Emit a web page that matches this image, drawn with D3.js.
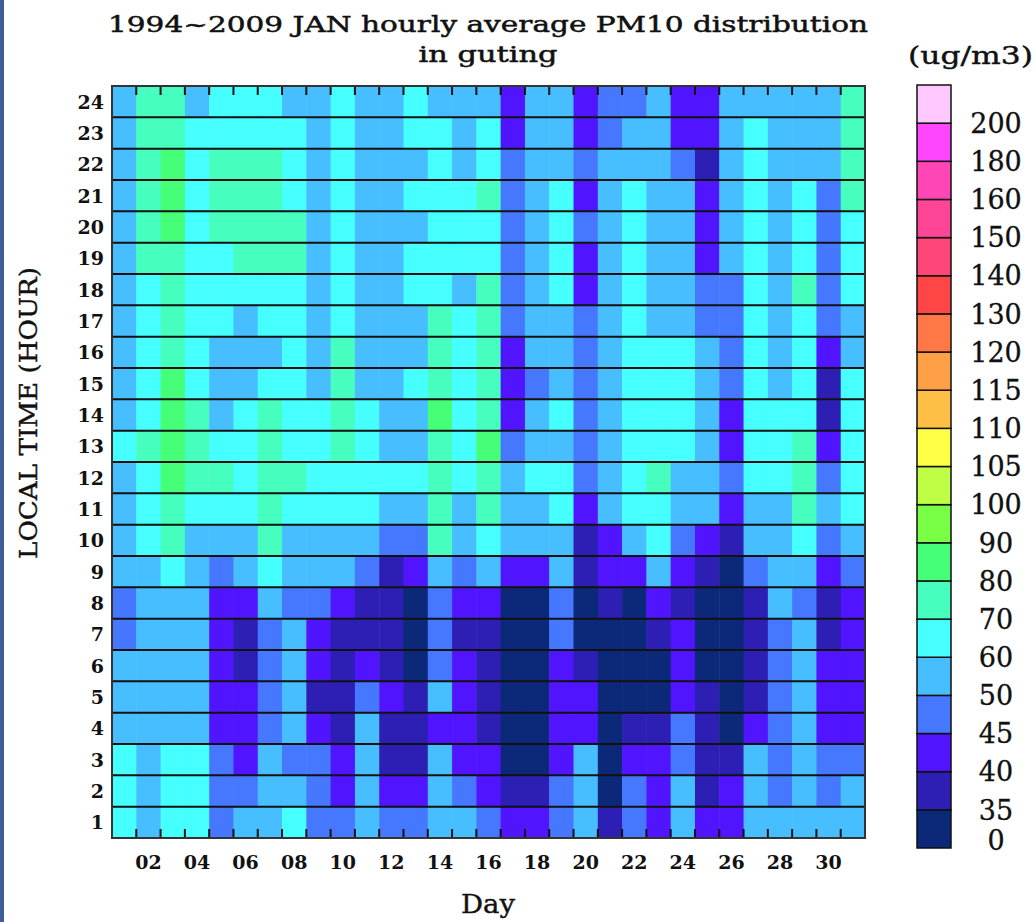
<!DOCTYPE html>
<html>
<head>
<meta charset="utf-8">
<script src="https://cdn.jsdelivr.net/npm/d3@7"></script>
<style>
html, body { margin: 0; padding: 0; background: #ffffff; }
svg { display: block; }
</style>
</head>
<body>
<svg id="chart" width="1034" height="922"></svg>
<script>
// ---------------- data ----------------
const days = [1,2,3,4,5,6,7,8,9,10,11,12,13,14,15,16,17,18,19,20,21,22,23,24,25,26,27,28,29,30,31];
const hours = [1,2,3,4,5,6,7,8,9,10,11,12,13,14,15,16,17,18,19,20,21,22,23,24];
const dayTickLabels = ["02","04","06","08","10","12","14","16","18","20","22","24","26","28","30"];

// colour bins (ug/m3)
const binEdges  = [35,40,45,50,60,70,80,90,100,105,110,115,120,130,140,150,160,180,200];
const binLabels = ["0","35","40","45","50","60","70","80","90","100","105","110","115","120","130","140","150","160","180","200"];
const binColors = ["#0c2878","#2d1eb4","#5014ff","#4678ff","#46beff","#46ffff","#46ffbe","#46ff78",
                   "#78ff46","#beff46","#ffff46","#ffbe46","#ffa046","#ff7846","#ff4646","#ff4678",
                   "#ff4696","#ff46b4","#ff46ff","#ffc8ff"];

// hourly average PM10, one row per local hour (1..24), one value per day (1..31)
const hourRows = [
/* 1 */ [65,55,65,65,47,55,55,65,47,47,55,47,47,55,55,47,42,42,47,55,37,47,42,55,42,42,55,55,55,55,55],
/* 2 */ [65,55,65,65,47,47,55,55,47,42,55,42,42,55,47,42,37,37,47,55,30,47,42,55,37,42,55,47,55,47,55],
/* 3 */ [65,55,65,65,47,42,55,47,47,42,55,37,37,55,42,42,30,30,42,55,30,42,42,47,37,37,55,47,55,47,47],
/* 4 */ [55,55,55,55,42,42,47,55,42,37,55,37,37,42,42,37,30,30,42,42,30,37,37,47,37,30,42,47,55,42,42],
/* 5 */ [55,55,55,55,42,42,47,55,37,37,47,42,37,55,42,37,30,30,42,42,30,30,30,42,37,30,37,47,55,42,42],
/* 6 */ [55,55,55,55,42,37,47,55,42,37,42,37,30,47,42,37,30,30,42,37,30,30,30,42,30,30,37,47,55,42,42],
/* 7 */ [47,55,55,55,42,37,47,55,42,37,37,37,30,47,37,37,30,30,47,30,30,30,37,42,30,30,37,47,55,37,42],
/* 8 */ [47,55,55,55,42,42,55,47,47,42,37,37,30,47,42,42,30,30,47,30,37,30,42,37,30,30,37,55,47,37,42],
/* 9 */ [55,55,65,55,47,55,65,55,55,55,47,37,42,55,47,55,42,42,55,37,42,42,55,42,37,30,47,55,55,42,47],
/*10 */ [55,65,75,55,55,55,75,55,55,55,55,47,47,75,55,65,55,55,55,37,42,55,65,47,42,37,55,55,65,47,55],
/*11 */ [55,65,75,65,65,65,75,65,65,65,65,55,55,75,55,75,55,55,65,42,55,65,65,55,55,42,55,55,75,55,65],
/*12 */ [55,65,85,75,75,65,75,75,65,65,65,65,65,75,65,75,55,65,65,47,55,65,75,55,55,47,65,65,75,47,65],
/*13 */ [65,75,85,75,65,65,75,65,65,75,65,55,55,75,65,85,47,55,55,47,55,65,65,65,55,42,65,65,75,42,65],
/*14 */ [55,65,85,75,55,65,75,65,65,75,65,55,55,85,65,75,42,55,65,47,55,65,65,65,55,42,65,65,65,37,65],
/*15 */ [55,65,85,65,55,55,65,65,55,75,55,55,65,75,65,75,42,47,55,47,55,65,65,65,55,47,65,55,65,37,65],
/*16 */ [55,65,75,65,55,55,55,65,55,75,55,55,55,75,65,75,42,55,55,47,55,65,65,65,55,47,65,55,65,42,55],
/*17 */ [55,65,75,65,65,55,65,65,55,65,55,55,55,75,65,75,47,55,55,47,55,65,55,55,47,47,65,55,65,47,55],
/*18 */ [55,65,75,65,65,65,65,65,55,65,55,55,65,65,55,75,47,55,65,42,55,65,55,55,47,47,65,55,75,47,65],
/*19 */ [55,75,75,65,65,75,75,75,55,65,55,55,65,65,65,65,47,55,65,42,55,65,55,55,42,55,65,55,65,47,65],
/*20 */ [55,75,85,65,75,75,75,75,55,65,55,55,55,65,65,65,47,55,65,47,55,65,55,55,42,55,65,55,65,47,65],
/*21 */ [55,75,85,65,75,75,75,65,55,65,55,55,65,65,65,75,47,55,65,42,55,65,55,55,42,55,65,55,65,47,75],
/*22 */ [55,75,85,65,75,75,75,65,55,65,55,55,55,65,55,65,47,55,55,47,55,55,55,47,37,55,65,55,55,55,75],
/*23 */ [55,75,75,65,65,65,65,65,55,65,55,55,65,65,55,65,42,55,55,42,47,55,55,42,42,55,65,55,55,55,75],
/*24 */ [55,75,75,55,65,65,65,55,55,65,55,55,65,55,55,55,42,55,55,42,47,47,55,42,42,55,55,55,55,55,75]
];

// ---------------- drawing ----------------
const svg = d3.select("#chart");
const FONT = "'DejaVu Serif', serif";

// left page strip
svg.append("rect").attr("x", 0).attr("y", 0).attr("width", 4).attr("height", 922).attr("fill", "#3d5f96");

const plot = { left: 112, right: 865, top: 86, bottom: 838 };

const x = d3.scaleBand().domain(days).range([plot.left, plot.right]).padding(0);
const y = d3.scaleBand().domain(hours.slice().reverse()).range([plot.top, plot.bottom]).padding(0);
const color = d3.scaleThreshold().domain(binEdges).range(binColors);

const cells = [];
hourRows.forEach((row, i) => row.forEach((v, j) => cells.push({ hour: hours[i], day: days[j], value: v })));

svg.append("g").selectAll("rect").data(cells).join("rect")
  .attr("x", d => x(d.day))
  .attr("y", d => y(d.hour))
  .attr("width", x.bandwidth() + 0.5)
  .attr("height", y.bandwidth() + 0.5)
  .attr("fill", d => color(d.value));

// horizontal row separators
svg.append("g").selectAll("line").data(hours.slice(0, -1)).join("line")
  .attr("x1", plot.left).attr("x2", plot.right)
  .attr("y1", d => y(d)).attr("y2", d => y(d))
  .attr("stroke", "#111").attr("stroke-width", 2);

// ticks at day boundaries (top and bottom, inward)
const tickDays = days.slice(1);
const tg = svg.append("g").attr("stroke", "#111").attr("stroke-width", 2);
tg.selectAll("line.t").data(tickDays).join("line").attr("class", "t")
  .attr("x1", d => x(d)).attr("x2", d => x(d))
  .attr("y1", plot.top).attr("y2", plot.top + 9);
tg.selectAll("line.b").data(tickDays).join("line").attr("class", "b")
  .attr("x1", d => x(d)).attr("x2", d => x(d))
  .attr("y1", plot.bottom).attr("y2", plot.bottom - 9);

// frame
svg.append("rect")
  .attr("x", plot.left).attr("y", plot.top)
  .attr("width", plot.right - plot.left).attr("height", plot.bottom - plot.top)
  .attr("fill", "none").attr("stroke", "#333").attr("stroke-width", 2);

// y tick labels
svg.append("g").selectAll("text").data(hours).join("text")
  .attr("x", 104).attr("y", d => y(d) + y.bandwidth() / 2)
  .attr("dy", "0.36em")
  .attr("text-anchor", "end")
  .attr("font-family", FONT).attr("font-weight", "bold").attr("font-size", 19)
  .attr("fill", "#111")
  .text(d => d);

// x tick labels
svg.append("g").selectAll("text").data(dayTickLabels).join("text")
  .attr("x", d => x(+d) + x.bandwidth() / 2)
  .attr("y", 869)
  .attr("text-anchor", "middle")
  .attr("font-family", FONT).attr("font-weight", "bold").attr("font-size", 19)
  .attr("fill", "#111")
  .text(d => d);

// titles
svg.append("text")
  .attr("x", 488).attr("y", 32).attr("text-anchor", "middle")
  .attr("font-family", FONT).attr("font-size", 23).attr("fill", "#111")
  .attr("stroke", "#111").attr("stroke-width", 0.5)
  .attr("textLength", 760).attr("lengthAdjust", "spacingAndGlyphs")
  .text("1994~2009 JAN hourly average PM10 distribution");
svg.append("text")
  .attr("x", 488).attr("y", 62).attr("text-anchor", "middle")
  .attr("font-family", FONT).attr("font-size", 23).attr("fill", "#111")
  .attr("stroke", "#111").attr("stroke-width", 0.5)
  .attr("textLength", 139).attr("lengthAdjust", "spacingAndGlyphs")
  .text("in guting");

// axis titles
svg.append("text")
  .attr("x", 488).attr("y", 913).attr("text-anchor", "middle")
  .attr("font-family", FONT).attr("font-size", 26).attr("fill", "#111")
  .attr("stroke", "#111").attr("stroke-width", 0.4)
  .attr("textLength", 54).attr("lengthAdjust", "spacingAndGlyphs")
  .text("Day");
svg.append("text")
  .attr("transform", "translate(37,413) rotate(-90)")
  .attr("text-anchor", "middle")
  .attr("font-family", FONT).attr("font-size", 25).attr("fill", "#111")
  .attr("stroke", "#111").attr("stroke-width", 0.4)
  .attr("textLength", 292).attr("lengthAdjust", "spacingAndGlyphs")
  .text("LOCAL TIME (HOUR)");

// colour bar
const legTop = 85, legBottom = 848, legX = 917, legW = 34;
const binIdx = binColors.map((c, i) => i);
const ly = d3.scaleBand().domain(binIdx.slice().reverse()).range([legTop, legBottom]).padding(0);

svg.append("g").selectAll("rect").data(binIdx).join("rect")
  .attr("x", legX).attr("y", i => ly(i))
  .attr("width", legW).attr("height", ly.bandwidth())
  .attr("fill", i => binColors[i])
  .attr("stroke", "#111").attr("stroke-width", 1.5);

svg.append("g").selectAll("text").data(binIdx).join("text")
  .attr("x", 996)
  .attr("y", i => i === 0 ? legBottom - 8 : ly(i) + ly.bandwidth())
  .attr("dy", "0.36em")
  .attr("text-anchor", "middle")
  .attr("font-family", FONT).attr("font-size", 27).attr("fill", "#111")
  .attr("stroke", "#111").attr("stroke-width", 0.3)
  .text(i => binLabels[i]);

svg.append("text")
  .attr("x", 908).attr("y", 64)
  .attr("font-family", FONT).attr("font-size", 24).attr("fill", "#111")
  .attr("stroke", "#111").attr("stroke-width", 0.4)
  .attr("textLength", 125).attr("lengthAdjust", "spacingAndGlyphs")
  .text("(ug/m3)");
</script>
</body>
</html>
